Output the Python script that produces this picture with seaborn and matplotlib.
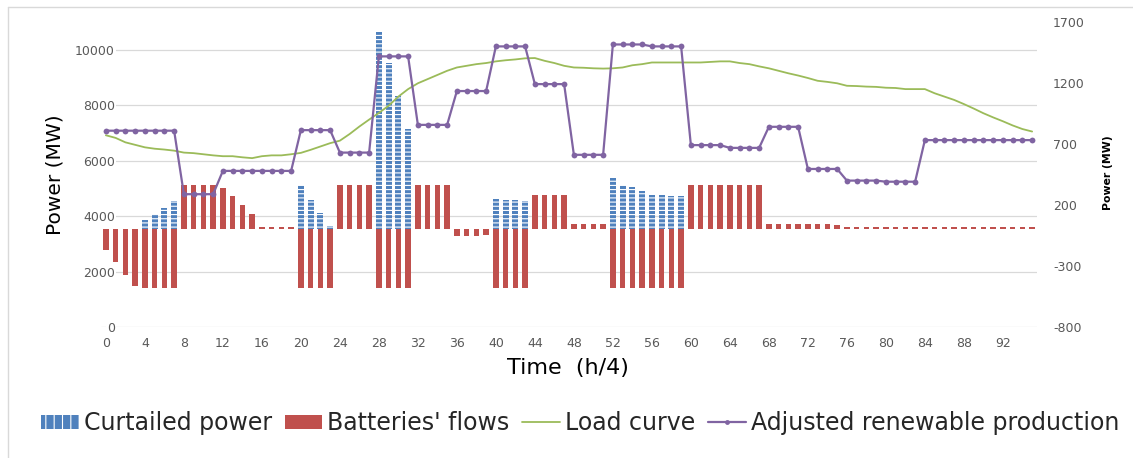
import numpy as np
import pandas as pd
import matplotlib
matplotlib.use("Agg")
import matplotlib.pyplot as plt
from matplotlib.patches import Patch
from matplotlib.lines import Line2D
import seaborn as sns

# ---------------- data ----------------
time = list(range(96))

load_curve = [6915, 6820, 6660, 6570, 6480, 6430, 6400, 6360,
              6290, 6270, 6230, 6190, 6160, 6160, 6120, 6090,
              6160, 6190, 6190, 6230, 6280, 6390, 6510, 6630,
              6720, 6960, 7230, 7480, 7720, 7980, 8310, 8580,
              8790, 8940, 9090, 9240, 9360, 9420, 9480, 9520,
              9580, 9620, 9650, 9690, 9700, 9600, 9520, 9420,
              9360, 9350, 9330, 9320, 9330, 9360, 9440, 9480,
              9540, 9540, 9540, 9540, 9540, 9540, 9560, 9580,
              9580, 9520, 9480, 9400, 9330, 9240, 9150, 9070,
              8980, 8880, 8840, 8790, 8700, 8690, 8670, 8660,
              8630, 8620, 8580, 8580, 8580, 8430, 8310, 8190,
              8040, 7880, 7710, 7560, 7420, 7270, 7140, 7050]

renewable = [7080, 7080, 7080, 7080, 7080, 7080, 7080, 7080,
             4790, 4790, 4790, 4790, 5630, 5630, 5630, 5630,
             5630, 5630, 5630, 5630, 7100, 7100, 7100, 7100,
             6290, 6290, 6290, 6290, 9760, 9760, 9760, 9760,
             7290, 7290, 7290, 7290, 8510, 8510, 8510, 8510,
             10120, 10120, 10120, 10120, 8760, 8760, 8760, 8760,
             6210, 6210, 6210, 6210, 10190, 10190, 10190, 10190,
             10120, 10120, 10120, 10120, 6560, 6560, 6560, 6560,
             6460, 6460, 6460, 6460, 7220, 7220, 7220, 7220,
             5700, 5700, 5700, 5700, 5280, 5280, 5280, 5280,
             5240, 5240, 5240, 5240, 6740, 6740, 6740, 6740,
             6740, 6740, 6740, 6740, 6740, 6740, 6740, 6740]

battery_flows = [-167, -268, -370, -463, -482, -482, -482, -482,
                 367, 367, 367, 367, 340, 274, 197, 123,
                 16, 16, 16, 16, -482, -482, -482, -482,
                 367, 367, 367, 367, -482, -482, -482, -482,
                 367, 367, 367, 367, -55, -55, -55, -50,
                 -482, -482, -482, -482, 282, 282, 282, 282,
                 45, 45, 45, 45, -482, -482, -482, -482,
                 -482, -482, -482, -482, 367, 367, 367, 367,
                 367, 367, 367, 367, 45, 45, 45, 45,
                 45, 45, 45, 32, 16, 16, 16, 16,
                 16, 16, 16, 16, 16, 16, 16, 16,
                 16, 16, 16, 16, 16, 16, 16, 16]

curtailed = [0, 0, 0, 0, 79, 129, 178, 230,
             0, 0, 0, 0, 0, 0, 0, 0,
             0, 0, 0, 0, 367, 238, 137, 25,
             0, 0, 0, 0, 1620, 1360, 1090, 827,
             0, 0, 0, 0, 0, 0, 0, 0,
             247, 244, 238, 230, 0, 0, 0, 0,
             0, 0, 0, 0, 422, 367, 348, 315,
             285, 279, 274, 271, 0, 0, 0, 0,
             0, 0, 0, 0, 0, 0, 0, 0,
             0, 0, 0, 0, 0, 0, 0, 0,
             0, 0, 0, 0, 0, 0, 0, 0,
             0, 0, 0, 0, 0, 0, 0, 0]

left_ticks = [0, 2000, 4000, 6000, 8000, 10000]
right_ticks = [-800, -300, 200, 700, 1200, 1700]
x_ticks = list(range(0, 93, 4))

series_names = ["Curtailed power", "Batteries' flows", "Load curve",
                "Adjusted renewable production"]

df = pd.DataFrame({"t": time, "load": load_curve, "ren": renewable,
                   "bat": battery_flows, "cur": curtailed})

# ---------------- style ----------------
sns.set_theme(style="white")
plt.rcParams["font.family"] = ["DejaVu Sans"]
plt.rcParams["hatch.linewidth"] = 0.8

BLUE = "#4f81bd"
RED = "#c0504d"
GREEN = "#9bbb59"
PURPLE = "#8064a2"
GRID = "#d9d9d9"
TICK = "#595959"

fig = plt.figure(figsize=(11.33, 4.58), dpi=100)
pos = [101 / 1133, (458 - 327) / 458, (1037 - 101) / 1133, (327 - 22) / 458]
ax = fig.add_axes(pos)
ax2 = ax.twinx()
ax3 = fig.add_axes(pos, sharex=ax, sharey=ax)

ax.set_zorder(0)
ax2.set_zorder(1)
ax3.set_zorder(2)
ax2.patch.set_visible(False)
ax3.patch.set_visible(False)

# bars (right axis)
sns.barplot(data=df, x="t", y="bat", ax=ax2, native_scale=True, width=0.58,
            color=RED, saturation=1, errorbar=None, linewidth=0)
sns.barplot(data=df, x="t", y="cur", ax=ax2, native_scale=True, width=0.64,
            color=BLUE, saturation=1, errorbar=None, linewidth=0,
            hatch="----", edgecolor="white")

# lines (left axis scale)
sns.lineplot(data=df, x="t", y="load", ax=ax3, color=GREEN, linewidth=1.3)
sns.lineplot(data=df, x="t", y="ren", ax=ax3, color=PURPLE, linewidth=1.6,
             marker="o", markersize=4.2, markeredgewidth=0,
             markerfacecolor=PURPLE)

# ---------------- axes config ----------------
ax.set_xlim(-0.5, 95.5)
ax.set_ylim(0, 11000)
ax2.set_ylim(-800, 1700)
ax.set_xticks(x_ticks)
ax.set_xticklabels([str(v) for v in x_ticks])
ax.set_yticks(left_ticks)
ax.set_yticklabels([str(v) for v in left_ticks])
ax2.set_yticks(right_ticks)
ax2.set_yticklabels([str(v) for v in right_ticks])

for a in (ax, ax2, ax3):
    a.set_xlabel("")
    a.set_ylabel("")
    for s in a.spines.values():
        s.set_visible(False)
ax3.axis("off")

ax.grid(axis="y", color=GRID, linewidth=0.9)
ax.grid(axis="x", visible=False)
ax2.grid(False)

ax.tick_params(axis="y", length=0, labelsize=9, labelcolor=TICK, pad=-10)
ax.tick_params(axis="x", length=0, labelsize=9, labelcolor=TICK, pad=7)
ax2.tick_params(axis="y", length=0, labelsize=9, labelcolor=TICK, pad=11.5)
ax2.tick_params(axis="x", length=0, labelbottom=False)

for lbl in ax.get_yticklabels():
    lbl.set_bbox(dict(facecolor="white", edgecolor="none", pad=1.0))

# ---------------- texts ----------------
fig.text(55 / 1133, (458 - 175) / 458, "Power (MW)", rotation=90,
         ha="center", va="center", fontsize=14.5, color="black")
fig.text(1108 / 1133, (458 - 173) / 458, "Power (MW)", rotation=90,
         ha="center", va="center", fontsize=7.8, fontweight="bold", color="black")
fig.text(568 / 1133, (458 - 368) / 458, "Time  (h/4)", ha="center",
         va="center", fontsize=16, color="black")

handles = [
    Patch(facecolor=BLUE, edgecolor="white", linewidth=0, hatch="||"),
    Patch(facecolor=RED, edgecolor="none"),
    Line2D([], [], color=GREEN, linewidth=1.3),
    Line2D([], [], color=PURPLE, linewidth=1.6, marker="o", markersize=3.5,
           markeredgewidth=0),
]
fig.legend(handles, series_names, loc="center",
           bbox_to_anchor=(580 / 1133, (458 - 423) / 458), ncol=4,
           frameon=False, fontsize=17, handlelength=1.6, handleheight=0.55,
           handletextpad=0.2, columnspacing=0.55)

# chart-area border (left and top)
fig.add_artist(Line2D([8 / 1133, 8 / 1133], [0, 1 - 7 / 458],
                      transform=fig.transFigure, color=GRID, linewidth=1))
fig.add_artist(Line2D([8 / 1133, 1], [1 - 7 / 458, 1 - 7 / 458],
                      transform=fig.transFigure, color=GRID, linewidth=1))

fig.savefig("out.png", dpi=100)
